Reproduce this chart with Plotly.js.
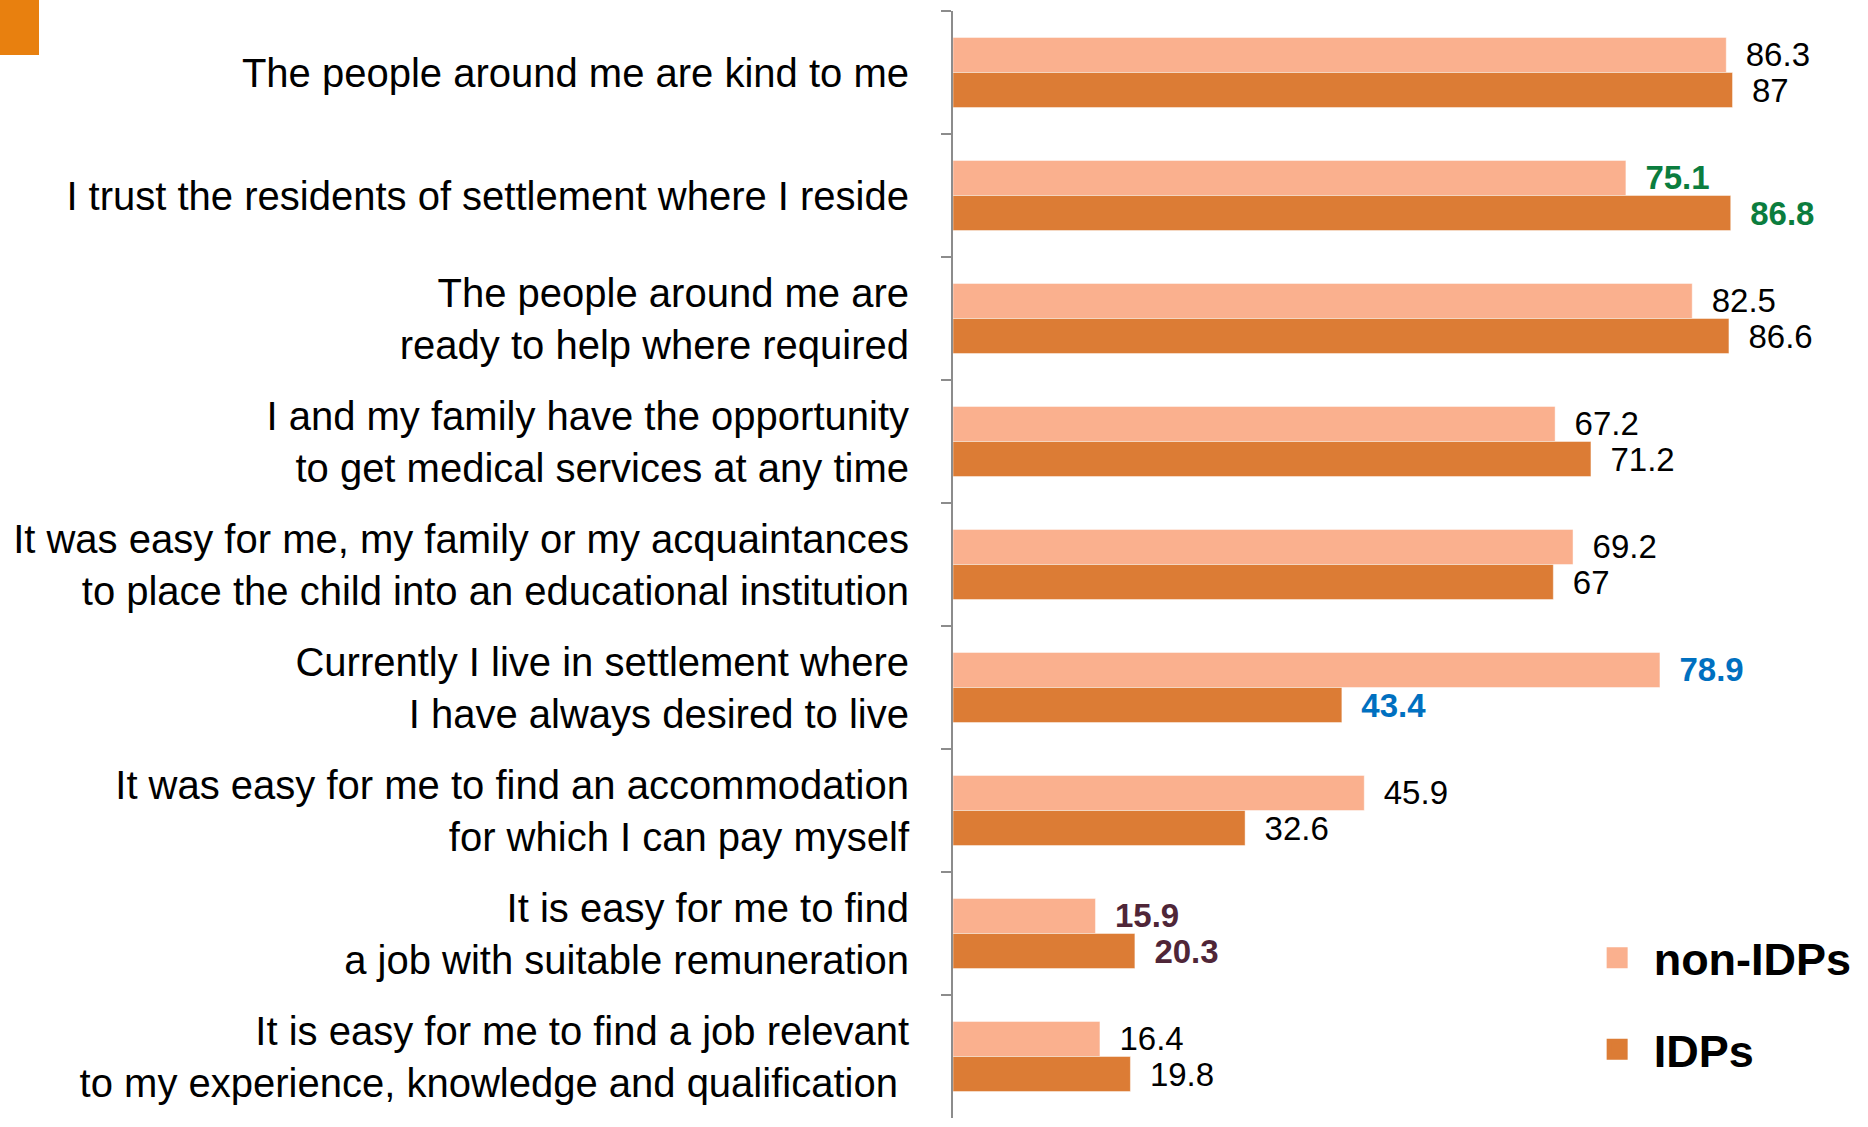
<!DOCTYPE html>
<html>
<head>
<meta charset="utf-8">
<script src="https://cdn.plot.ly/plotly-3.0.1.min.js"></script>
<style>
  html, body { margin: 0; padding: 0; background: #fff; }
  #chart { width: 1868px; height: 1127px; }
  #corner { position: absolute; left: 0; top: 0; width: 39px; height: 55px; background: #e8800f; z-index: 5; }
</style>
</head>
<body>
<div id="corner"></div>
<div id="chart"></div>
<script>
// Statements (top to bottom)
const statements = [
    'The people around me are kind to me',
    'I trust the residents of settlement where I reside',
    'The people around me are<br>ready to help where required',
    'I and my family have the opportunity<br>to get medical services at any time',
    'It was easy for me, my family or my acquaintances<br>to place the child into an educational institution',
    'Currently I live in settlement where<br>I have always desired to live',
    'It was easy for me to find an accommodation<br>for which I can pay myself',
    'It is easy for me to find<br>a job with suitable remuneration',
    'It is easy for me to find a job relevant<br>to my experience, knowledge and qualification\u00a0'
];

// Share of respondents, %
const nonIdps = [86.3, 75.1, 82.5, 67.2, 69.2, 78.9, 45.9, 15.9, 16.4];
const idps = [87, 86.8, 86.6, 71.2, 67, 43.4, 32.6, 20.3, 19.8];

// Highlighted rows (label colour)
const labelColors = ['#000000', '#0b7d3e', '#000000', '#000000', '#000000', '#0070c0', '#000000', '#4f2638', '#000000'];

const FONT = 'Arial, "Liberation Sans", sans-serif';
const LIGHT = '#fab08e';
const DARK = '#dc7c35';

function labels(values) {
    return values.map((v, i) => {
        const t = String(v);
        return '\u2002' + (labelColors[i] !== '#000000' ? '<b>' + t + '</b>' : t);
    });
}

function barTrace(name, values, color) {
    return {
        type: 'bar',
        orientation: 'h',
        name: name,
        x: values,
        y: statements,
        text: labels(values),
        textposition: 'outside',
        texttemplate: '%{text}',
        constraintext: 'none',
        cliponaxis: false,
        textfont: { family: FONT, size: 33, color: labelColors },
        marker: { color: color, line: { color: 'rgba(255,255,255,0.45)', width: 1 } },
        showlegend: false,
        hoverinfo: 'skip'
    };
}

// legend-only markers
function legendTrace(name, color, group) {
    return {
        type: 'scatter',
        mode: 'markers',
        name: name,
        x: [null],
        y: [null],
        legendgroup: group,
        marker: { symbol: 'square', size: 22, color: color, line: { color: color, width: 6 } },
        hoverinfo: 'skip'
    };
}

const data = [
    barTrace('non-IDPs', nonIdps, LIGHT),
    barTrace('IDPs', idps, DARK),
    legendTrace('non-IDPs', LIGHT, 'a'),
    legendTrace('IDPs', DARK, 'b')
];

const layout = {
    width: 1868,
    height: 1127,
    barmode: 'group',
    bargap: 0.43,
    bargroupgap: 0,
    paper_bgcolor: '#ffffff',
    plot_bgcolor: '#ffffff',
    font: { family: FONT, color: '#000000' },
    margin: { l: 953, r: 19, t: 11, b: 9 },
    xaxis: {
        visible: false,
        range: [0, 100],
        fixedrange: true
    },
    yaxis: {
        type: 'category',
        autorange: 'reversed',
        showline: true,
        linecolor: '#8c8c8c',
        linewidth: 2,
        ticks: 'outside',
        tickson: 'boundaries',
        ticklen: 10,
        tickwidth: 2,
        tickcolor: '#8c8c8c',
        ticklabelstandoff: 34,
        showgrid: false,
        zeroline: false,
        tickfont: { family: FONT, size: 40, color: '#000000' },
        fixedrange: true
    },
    showlegend: true,
    legend: {
        x: 0.7005,
        y: 0.177,
        xanchor: 'left',
        yanchor: 'top',
        traceorder: 'grouped',
        tracegroupgap: 30,
        itemwidth: 63,
        bgcolor: 'rgba(0,0,0,0)',
        font: { family: FONT, size: 45, color: '#000000', weight: 'bold' }
    }
};

Plotly.newPlot('chart', data, layout, { displayModeBar: false, staticPlot: true });
</script>
</body>
</html>
